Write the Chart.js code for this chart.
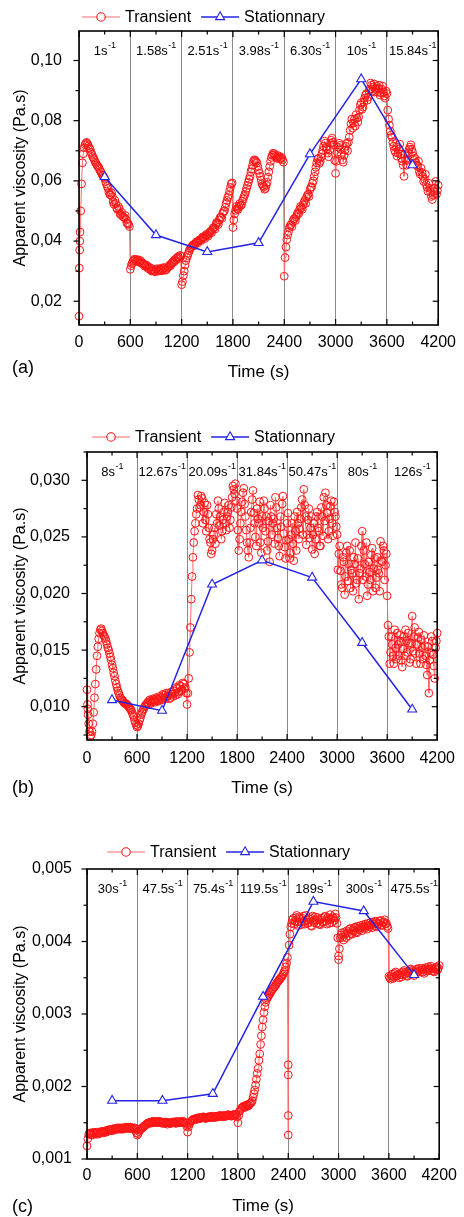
<!DOCTYPE html>
<html>
<head>
<meta charset="utf-8">
<script src="https://cdn.jsdelivr.net/npm/chart.js@4.4.1/dist/chart.umd.min.js"></script>
<style>
  html, body { margin: 0; padding: 0; background: #fff; }
  body { position: relative; width: 464px; height: 1217px; overflow: hidden; }
  canvas { position: absolute; left: 0; }
</style>
</head>
<body>
<canvas id="chartA" width="464" height="400" style="top:0px"></canvas>
<canvas id="chartB" width="464" height="410" style="top:400px"></canvas>
<canvas id="chartC" width="464" height="407" style="top:810px"></canvas>
<script>
/* global Chart */

// sampling grid of the transient runs (s)
const timeS = [
  0, 20, 40, 60, 80, 100, 120, 140, 160, 180, 200, 220, 240, 260, 280, 300, 320, 340, 360, 380, 400, 420, 440, 460, 480, 500, 520, 540, 560, 580,
  600, 620, 640, 660, 680, 700, 720, 740, 760, 780, 800, 820, 840, 860, 880, 900, 920, 940, 960, 980, 1000, 1020, 1040, 1060, 1080, 1100, 1120, 1140, 1160, 1180,
  1200, 1220, 1240, 1260, 1280, 1300, 1320, 1340, 1360, 1380, 1400, 1420, 1440, 1460, 1480, 1500, 1520, 1540, 1560, 1580, 1600, 1620, 1640, 1660, 1680, 1700, 1720, 1740, 1760, 1780,
  1800, 1820, 1840, 1860, 1880, 1900, 1920, 1940, 1960, 1980, 2000, 2020, 2040, 2060, 2080, 2100, 2120, 2140, 2160, 2180, 2200, 2220, 2240, 2260, 2280, 2300, 2320, 2340, 2360, 2380,
  2400, 2420, 2440, 2460, 2480, 2500, 2520, 2540, 2560, 2580, 2600, 2620, 2640, 2660, 2680, 2700, 2720, 2740, 2760, 2780, 2800, 2820, 2840, 2860, 2880, 2900, 2920, 2940, 2960, 2980,
  3000, 3020, 3040, 3060, 3080, 3100, 3120, 3140, 3160, 3180, 3200, 3220, 3240, 3260, 3280, 3300, 3320, 3340, 3360, 3380, 3400, 3420, 3440, 3460, 3480, 3500, 3520, 3540, 3560, 3580,
  3600, 3620, 3640, 3660, 3680, 3700, 3720, 3740, 3760, 3780, 3800, 3820, 3840, 3860, 3880, 3900, 3920, 3940, 3960, 3980, 4000, 4020, 4040, 4060, 4080, 4100, 4120, 4140, 4160, 4180, 4200,
];
// in-between readings (s)
const timeOddS = [
  10, 30, 50, 70, 90, 110, 130, 150, 170, 190, 210, 230, 250, 270, 290, 310, 330, 350, 370, 390, 410, 430, 450, 470, 490, 510, 530, 550, 570, 590,
  610, 630, 650, 670, 690, 710, 730, 750, 770, 790, 810, 830, 850, 870, 890, 910, 930, 950, 970, 990, 1010, 1030, 1050, 1070, 1090, 1110, 1130, 1150, 1170, 1190,
  1210, 1230, 1250, 1270, 1290, 1310, 1330, 1350, 1370, 1390, 1410, 1430, 1450, 1470, 1490, 1510, 1530, 1550, 1570, 1590, 1610, 1630, 1650, 1670, 1690, 1710, 1730, 1750, 1770, 1790,
  1810, 1830, 1850, 1870, 1890, 1910, 1930, 1950, 1970, 1990, 2010, 2030, 2050, 2070, 2090, 2110, 2130, 2150, 2170, 2190, 2210, 2230, 2250, 2270, 2290, 2310, 2330, 2350, 2370, 2390,
  2410, 2430, 2450, 2470, 2490, 2510, 2530, 2550, 2570, 2590, 2610, 2630, 2650, 2670, 2690, 2710, 2730, 2750, 2770, 2790, 2810, 2830, 2850, 2870, 2890, 2910, 2930, 2950, 2970, 2990,
  3010, 3030, 3050, 3070, 3090, 3110, 3130, 3150, 3170, 3190, 3210, 3230, 3250, 3270, 3290, 3310, 3330, 3350, 3370, 3390, 3410, 3430, 3450, 3470, 3490, 3510, 3530, 3550, 3570, 3590,
  3610, 3630, 3650, 3670, 3690, 3710, 3730, 3750, 3770, 3790, 3810, 3830, 3850, 3870, 3890, 3910, 3930, 3950, 3970, 3990, 4010, 4030, 4050, 4070, 4090, 4110, 4130, 4150, 4170, 4190,
];

// middle of each shear-rate step (s), where the stationary values sit
const stepMidS = [300, 900, 1500, 2100, 2700, 3300, 3900];
const xTicks = [0, 600, 1200, 1800, 2400, 3000, 3600, 4200];

// (a)
const ratesA = ["1", "1.58", "2.51", "3.98", "6.30", "10", "15.84"];
const stationaryA = [0.0613, 0.042, 0.0364, 0.0394, 0.0689, 0.0938, 0.0652];
const transientA = [
  0.015, 0.05, 0.066, 0.071, 0.0725, 0.0722, 0.071, 0.0695, 0.068, 0.067, 0.0658, 0.0648, 0.0638, 0.0628, 0.0618, 0.0608, 0.059, 0.0575, 0.0555, 0.056, 0.053, 0.0535, 0.051, 0.0515, 0.049, 0.0495, 0.048, 0.0485, 0.046, 0.0455,
  0.0306, 0.0325, 0.0335, 0.0338, 0.0336, 0.0332, 0.0335, 0.0328, 0.0322, 0.0318, 0.0315, 0.031, 0.0305, 0.0302, 0.03, 0.0305, 0.0302, 0.0305, 0.0303, 0.0308, 0.031, 0.0305, 0.0312, 0.032, 0.0325, 0.0332, 0.0338, 0.0342, 0.0348, 0.0352,
  0.0255, 0.0285, 0.032, 0.0345, 0.036, 0.0375, 0.0382, 0.0388, 0.0392, 0.0398, 0.04, 0.0405, 0.041, 0.0412, 0.0418, 0.042, 0.0425, 0.0432, 0.0438, 0.0445, 0.0455, 0.046, 0.047, 0.048, 0.0492, 0.05, 0.0525, 0.0545, 0.0565, 0.059,
  0.0445, 0.049, 0.0515, 0.0505, 0.0525, 0.052, 0.054, 0.0555, 0.0575, 0.0595, 0.0615, 0.064, 0.0665, 0.0668, 0.066, 0.0635, 0.0615, 0.059, 0.058, 0.0575, 0.0595, 0.063, 0.0665, 0.0685, 0.069, 0.0682, 0.0678, 0.068, 0.0675, 0.067,
  0.0283, 0.038, 0.042, 0.0445, 0.0455, 0.0465, 0.0475, 0.048, 0.0495, 0.0505, 0.051, 0.052, 0.0535, 0.0545, 0.0555, 0.057, 0.058, 0.06, 0.063, 0.066, 0.0675, 0.0665, 0.069, 0.0715, 0.0725, 0.0705, 0.068, 0.0725, 0.0742, 0.072,
  0.0625, 0.0695, 0.0725, 0.0705, 0.067, 0.0685, 0.0715, 0.07, 0.0745, 0.079, 0.0775, 0.0805, 0.082, 0.0795, 0.0835, 0.086, 0.0845, 0.0875, 0.089, 0.0878, 0.0905, 0.0918, 0.0912, 0.0895, 0.0915, 0.0908, 0.0885, 0.0905, 0.0895, 0.0875,
  0.089, 0.0805, 0.0765, 0.0745, 0.0715, 0.0695, 0.0682, 0.0705, 0.0688, 0.0665, 0.0615, 0.067, 0.0668, 0.0705, 0.072, 0.0695, 0.0668, 0.066, 0.0648, 0.063, 0.0642, 0.0615, 0.0605, 0.0588, 0.0565, 0.0575, 0.0548, 0.0552, 0.0575, 0.0555, 0.0585,
];
const transientOddA = [
  0.04, 0.059, 0.069, 0.072, 0.0728, 0.0716, 0.0705, 0.0688, 0.0676, 0.0662, 0.0652, 0.0645, 0.0632, 0.062, 0.0612, 0.0598, 0.0582, 0.0562, 0.0553, 0.0548, 0.0522, 0.0525, 0.0505, 0.0508, 0.0488, 0.0482, 0.0478, 0.0472, 0.0458, 0.0448,
  0.0318, 0.0332, 0.034, 0.0332, 0.0338, 0.033, 0.0326, 0.0324, 0.0316, 0.032, 0.0308, 0.0312, 0.03, 0.0304, 0.0298, 0.0308, 0.03, 0.0309, 0.0301, 0.0312, 0.0303, 0.0309, 0.0316, 0.0318, 0.0328, 0.033, 0.0336, 0.0345, 0.0342, 0.035,
  0.0265, 0.03, 0.0335, 0.0352, 0.0368, 0.0378, 0.0386, 0.0385, 0.0396, 0.0394, 0.0404, 0.0402, 0.0414, 0.0408, 0.0422, 0.0416, 0.043, 0.0428, 0.0444, 0.044, 0.0462, 0.0455, 0.0478, 0.0475, 0.0498, 0.0512, 0.0535, 0.0552, 0.0578, 0.0593,
  0.047, 0.0502, 0.0508, 0.0515, 0.0518, 0.0532, 0.0548, 0.0565, 0.0585, 0.0605, 0.063, 0.0652, 0.067, 0.0664, 0.0648, 0.0625, 0.0602, 0.0584, 0.0572, 0.0585, 0.0612, 0.0648, 0.0678, 0.0692, 0.0686, 0.0675, 0.0684, 0.0672, 0.0678, 0.0662,
  0.0345, 0.0405, 0.0432, 0.0452, 0.0448, 0.0472, 0.0468, 0.0488, 0.0492, 0.0515, 0.0505, 0.0528, 0.0525, 0.0552, 0.0548, 0.0578, 0.0592, 0.0615, 0.0645, 0.0672, 0.0658, 0.0678, 0.0702, 0.0732, 0.0712, 0.0692, 0.0702, 0.0735, 0.0728, 0.0668,
  0.0665, 0.0712, 0.0718, 0.0688, 0.0662, 0.0702, 0.0725, 0.0728, 0.0768, 0.0805, 0.0792, 0.0782, 0.0808, 0.0812, 0.0852, 0.0838, 0.0862, 0.0885, 0.0868, 0.0898, 0.0925, 0.0898, 0.0922, 0.0906, 0.0895, 0.0918, 0.0892, 0.0915, 0.0882, 0.0898,
  0.0835, 0.0785, 0.0752, 0.0728, 0.0702, 0.0712, 0.0692, 0.0722, 0.0675, 0.0652, 0.0688, 0.0652, 0.0692, 0.0712, 0.0705, 0.0682, 0.0675, 0.0652, 0.0665, 0.0622, 0.0628, 0.0598, 0.0622, 0.0578, 0.0592, 0.0562, 0.0538, 0.0565, 0.0598, 0.0568,
];
// extra readings logged right at a step change
const jumpTimeA = [4, 8, 12];
const jumpViscA = [0.031, 0.037, 0.043];
const yTicksA = [0.02, 0.04, 0.06, 0.08, 0.1];

// (b)
const ratesB = ["8", "12.67", "20.09", "31.84", "50.47", "80", "126"];
const stationaryB = [0.01059, 0.00965, 0.0208, 0.02294, 0.02141, 0.01565, 0.00976];
const transientB = [
  0.0115, 0.0085, 0.0074, 0.0078, 0.0095, 0.012, 0.0145, 0.016, 0.0168, 0.0167, 0.0163, 0.016, 0.0155, 0.015, 0.0144, 0.0137, 0.013, 0.0123, 0.0117, 0.0112, 0.0108, 0.0106, 0.0104, 0.0103, 0.0102, 0.01, 0.0098, 0.0095, 0.0091, 0.0086,
  0.0082, 0.0085, 0.009, 0.0095, 0.0098, 0.0101, 0.0103, 0.0102, 0.0105, 0.0104, 0.0106, 0.0104, 0.0107, 0.0105, 0.0108, 0.0106, 0.011, 0.0107, 0.0109, 0.0112, 0.0108, 0.0111, 0.0114, 0.011, 0.0116, 0.0113, 0.0118, 0.0115, 0.012, 0.0117,
  0.0102, 0.0125, 0.017, 0.0215, 0.0245, 0.0262, 0.0275, 0.0283, 0.0278, 0.0284, 0.0272, 0.0265, 0.0278, 0.0258, 0.0245, 0.0238, 0.0252, 0.0244, 0.0262, 0.0275, 0.0268, 0.0255, 0.0272, 0.0262, 0.0268, 0.0278, 0.0265, 0.0285, 0.0292, 0.0297,
  0.0275, 0.0238, 0.0262, 0.0281, 0.0293, 0.0268, 0.0245, 0.0232, 0.0258, 0.0283, 0.0271, 0.025, 0.0275, 0.0262, 0.0245, 0.0268, 0.0282, 0.0255, 0.0238, 0.0264, 0.0278, 0.0252, 0.0266, 0.0285, 0.0258, 0.0242, 0.0268, 0.0279, 0.0253, 0.0231,
  0.0262, 0.0248, 0.0236, 0.0262, 0.0229, 0.0255, 0.0272, 0.0248, 0.0266, 0.0283, 0.0292, 0.0268, 0.0252, 0.0275, 0.0258, 0.0239, 0.0262, 0.0248, 0.0272, 0.0255, 0.0242, 0.0268, 0.0285, 0.0289, 0.0271, 0.0255, 0.0277, 0.0262, 0.0281, 0.0268,
  0.0252, 0.0235, 0.022, 0.0205, 0.0228, 0.0215, 0.0242, 0.0226, 0.0205, 0.0218, 0.0232, 0.0245, 0.0212, 0.0195, 0.0222, 0.0255, 0.0238, 0.0215, 0.0198, 0.0228, 0.0212, 0.024, 0.0222, 0.0205, 0.0232, 0.0218, 0.0246, 0.0228, 0.0238, 0.0225,
  0.0198, 0.0162, 0.0148, 0.0155, 0.0138, 0.0152, 0.0165, 0.0145, 0.0158, 0.0135, 0.0162, 0.0168, 0.0148, 0.0156, 0.0142, 0.018, 0.0162, 0.0147, 0.0155, 0.0166, 0.0138, 0.0152, 0.0163, 0.0145, 0.0128, 0.0112, 0.0148, 0.0158, 0.0136, 0.0152, 0.0165,
];
const transientOddB = [
  0.0098, 0.0078, 0.0075, 0.0085, 0.0108, 0.0133, 0.0153, 0.0165, 0.0169, 0.0165, 0.0162, 0.0158, 0.0152, 0.0147, 0.0141, 0.0134, 0.0127, 0.012, 0.0114, 0.011, 0.0107, 0.0105, 0.0103, 0.0102, 0.0101, 0.0099, 0.0097, 0.0093, 0.0088, 0.0084,
  0.0083, 0.0088, 0.0093, 0.0097, 0.01, 0.0102, 0.0104, 0.0106, 0.0103, 0.0107, 0.0105, 0.0108, 0.0106, 0.0109, 0.0107, 0.0111, 0.0108, 0.0112, 0.011, 0.0107, 0.0113, 0.0109, 0.0112, 0.0117, 0.0111, 0.0119, 0.0114, 0.0121, 0.0116, 0.0112,
  0.0112, 0.0148, 0.0195, 0.0232, 0.0255, 0.027, 0.0287, 0.0276, 0.0286, 0.0262, 0.028, 0.0255, 0.027, 0.0248, 0.0235, 0.0248, 0.0258, 0.027, 0.0282, 0.026, 0.0248, 0.0265, 0.028, 0.0256, 0.0272, 0.0258, 0.0276, 0.0295, 0.0288, 0.0282,
  0.0256, 0.0248, 0.0272, 0.0289, 0.0279, 0.0256, 0.0238, 0.0245, 0.0272, 0.0291, 0.0262, 0.0242, 0.0266, 0.0281, 0.0236, 0.0258, 0.0275, 0.0268, 0.0246, 0.0228, 0.0268, 0.0262, 0.0244, 0.0276, 0.0249, 0.0233, 0.0259, 0.0286, 0.0241, 0.0247,
  0.0271, 0.0231, 0.0252, 0.0244, 0.0268, 0.0238, 0.0262, 0.0257, 0.0276, 0.0252, 0.0278, 0.0243, 0.0265, 0.0249, 0.0268, 0.0252, 0.0235, 0.0268, 0.0258, 0.0242, 0.0276, 0.0251, 0.0264, 0.0278, 0.0248, 0.0266, 0.0282, 0.0251, 0.0272, 0.0259,
  0.0221, 0.0242, 0.0208, 0.0232, 0.0199, 0.0236, 0.0211, 0.0238, 0.0221, 0.0202, 0.0226, 0.0209, 0.0231, 0.0218, 0.0242, 0.0212, 0.0226, 0.0245, 0.0208, 0.0219, 0.0234, 0.0202, 0.0231, 0.0214, 0.0221, 0.0202, 0.0229, 0.0242, 0.0212, 0.0235,
  0.0172, 0.0138, 0.0162, 0.0145, 0.0168, 0.0142, 0.0155, 0.0163, 0.0141, 0.0151, 0.0145, 0.0158, 0.0165, 0.0139, 0.0156, 0.0149, 0.017, 0.0138, 0.0161, 0.0147, 0.0159, 0.0142, 0.0154, 0.0137, 0.0153, 0.0141, 0.0162, 0.0146, 0.0125, 0.0158,
];
const jumpTimeB = [6, 12];
const jumpViscB = [0.0102, 0.0093];
const yTicksB = [0.01, 0.015, 0.02, 0.025, 0.03];

// (c)
const ratesC = ["30", "47.5", "75.4", "119.5", "189", "300", "475.5"];
const stationaryC = [0.001805, 0.001805, 0.0019, 0.00324, 0.00455, 0.00442, 0.00354];
const transientC = [
  0.00118, 0.00134, 0.00136, 0.00133, 0.00137, 0.00135, 0.00134, 0.00137, 0.00136, 0.00138, 0.00136, 0.00139, 0.00138, 0.0014, 0.00141, 0.00139, 0.00142, 0.00141, 0.00143, 0.00142, 0.00141, 0.00143, 0.00142, 0.00144, 0.00143, 0.00142, 0.00144, 0.00143, 0.00142, 0.00141,
  0.00133, 0.00138, 0.00141, 0.00143, 0.00145, 0.00147, 0.00149, 0.0015, 0.00151, 0.0015, 0.00152, 0.00151, 0.0015, 0.00152, 0.00151, 0.00149, 0.00151, 0.0015, 0.00148, 0.0015, 0.00149, 0.00151, 0.0015, 0.00149, 0.00151, 0.0015, 0.00152, 0.00151, 0.0015, 0.00149,
  0.00137, 0.00148, 0.00152, 0.00154, 0.00155, 0.00156, 0.00155, 0.00157, 0.00156, 0.00158, 0.00157, 0.00156, 0.00158, 0.00157, 0.00159, 0.00158, 0.00157, 0.00159, 0.00158, 0.0016, 0.00159, 0.00158, 0.0016, 0.00159, 0.00161, 0.0016, 0.00159, 0.00161, 0.0016, 0.00161,
  0.0015, 0.00166, 0.0017, 0.00172, 0.00171, 0.00174, 0.00173, 0.00176, 0.00178, 0.00185, 0.00195, 0.0021, 0.00225, 0.00245, 0.0027, 0.00292, 0.0031, 0.0032, 0.00324, 0.00328, 0.00332, 0.00335, 0.00338, 0.00342, 0.00345, 0.00348, 0.00351, 0.00355, 0.0036, 0.0037,
  0.00133, 0.0041, 0.00425, 0.00432, 0.00428, 0.00436, 0.00422, 0.00431, 0.00427, 0.00435, 0.00424, 0.0043, 0.00426, 0.00433, 0.00421, 0.00429, 0.00434, 0.00425, 0.0043, 0.00423, 0.00432, 0.00427, 0.00435, 0.00424, 0.0043, 0.00437, 0.00426, 0.00432, 0.00438, 0.00425,
  0.0038, 0.00405, 0.00412, 0.00402, 0.0041, 0.00415, 0.00408, 0.00418, 0.0041, 0.00414, 0.0042, 0.00412, 0.00418, 0.00422, 0.00415, 0.0042, 0.00424, 0.00417, 0.00422, 0.00426, 0.00419, 0.00424, 0.00428, 0.0042, 0.00425, 0.00429, 0.00422, 0.00427, 0.00424, 0.00421,
  0.00352, 0.00348, 0.00355, 0.00351, 0.00358, 0.00353, 0.0035, 0.00357, 0.00354, 0.0036, 0.00355, 0.00352, 0.00359, 0.00362, 0.00356, 0.00353, 0.0036, 0.00357, 0.00363, 0.00358, 0.00361, 0.00356, 0.00364, 0.00359, 0.00362, 0.00366, 0.0036, 0.00358, 0.00364, 0.00361, 0.00367,
];
const transientOddC = [
  0.00128, 0.00135, 0.00134, 0.00136, 0.00135, 0.00137, 0.00136, 0.00135, 0.00138, 0.00137, 0.00138, 0.00137, 0.0014, 0.00139, 0.0014, 0.00141, 0.0014, 0.00142, 0.00141, 0.00143, 0.00142, 0.00141, 0.00143, 0.00142, 0.00144, 0.00143, 0.00142, 0.00141, 0.00143, 0.00136,
  0.00135, 0.0014, 0.00142, 0.00144, 0.00146, 0.00148, 0.0015, 0.00149, 0.00151, 0.00152, 0.0015, 0.00151, 0.00152, 0.0015, 0.00151, 0.0015, 0.00149, 0.00151, 0.0015, 0.00149, 0.0015, 0.00151, 0.0015, 0.00152, 0.0015, 0.00151, 0.0015, 0.00152, 0.0015, 0.00145,
  0.00144, 0.0015, 0.00153, 0.00155, 0.00154, 0.00156, 0.00157, 0.00156, 0.00157, 0.00158, 0.00156, 0.00157, 0.00158, 0.00158, 0.00157, 0.00159, 0.00158, 0.00158, 0.00159, 0.0016, 0.00159, 0.0016, 0.00159, 0.0016, 0.00161, 0.0016, 0.0016, 0.00161, 0.00162, 0.00158,
  0.0016, 0.00168, 0.00171, 0.00173, 0.00172, 0.00175, 0.00174, 0.00177, 0.0018, 0.0019, 0.00202, 0.00218, 0.00236, 0.00258, 0.00282, 0.00302, 0.00316, 0.00322, 0.00326, 0.0033, 0.00334, 0.00337, 0.0034, 0.00344, 0.00347, 0.0035, 0.00353, 0.00358, 0.00365, 0.00378,
  0.00395, 0.0042, 0.0043, 0.00424, 0.00433, 0.00427, 0.00434, 0.00423, 0.00432, 0.00428, 0.00436, 0.00425, 0.00431, 0.00422, 0.00435, 0.00426, 0.0043, 0.00433, 0.00424, 0.0043, 0.00426, 0.00434, 0.00428, 0.00433, 0.00425, 0.00431, 0.00434, 0.00429, 0.00433, 0.00405,
  0.0039, 0.00409, 0.00406, 0.00413, 0.00405, 0.00412, 0.00417, 0.00411, 0.00416, 0.00419, 0.00413, 0.00421, 0.00416, 0.00419, 0.00423, 0.00418, 0.00421, 0.00425, 0.0042, 0.00423, 0.00427, 0.00421, 0.00426, 0.00424, 0.00428, 0.00423, 0.00426, 0.0043, 0.00425, 0.00418,
  0.0035, 0.00353, 0.00349, 0.00356, 0.00352, 0.00355, 0.00354, 0.00351, 0.00358, 0.00356, 0.00353, 0.00357, 0.00361, 0.00358, 0.00355, 0.00358, 0.00362, 0.00359, 0.0036, 0.00363, 0.00358, 0.00362, 0.0036, 0.00365, 0.00361, 0.00363, 0.00359, 0.00362, 0.00365, 0.00363,
];
const jumpTimeC = [2400, 2400, 2400, 3000];
const jumpViscC = [0.0016, 0.00216, 0.0023, 0.00375];
const yTicksC = [0.001, 0.002, 0.003, 0.004, 0.005];

const RED = "#ff1414";
const RED_LINE = "#ff6a6a";
const BLUE = "#2323e6";
const GRAY = "#8a8a8a";
const FONT = "'Liberation Sans', Arial, Helvetica, sans-serif";

Chart.defaults.font.family = FONT;
Chart.defaults.font.size = 16;
Chart.defaults.color = "#000";

function midpoints(ticks) {
  const out = [];
  const step = ticks[1] - ticks[0];
  out.push(ticks[0] - step / 2);
  for (let i = 0; i < ticks.length - 1; i++) out.push((ticks[i] + ticks[i + 1]) / 2);
  out.push(ticks[ticks.length - 1] + step / 2);
  return out;
}

// frame, inward/outward ticks, shear-rate labels, legend and panel letter
const panelDecor = {
  id: "panelDecor",
  afterDraw(chart, args, opts) {
    const ctx = chart.ctx;
    const area = chart.chartArea;
    const xs = chart.scales.x;
    const ys = chart.scales.y;
    ctx.save();

    // shear rate of each step
    ctx.fillStyle = "#000";
    ctx.textBaseline = "alphabetic";
    opts.rates.forEach((r, i) => {
      const main = r + "s";
      ctx.font = "13px " + FONT;
      const w1 = ctx.measureText(main).width;
      ctx.font = "9px " + FONT;
      const w2 = ctx.measureText("-1").width;
      const cx = xs.getPixelForValue(stepMidS[i]);
      const x0 = cx - (w1 + w2) / 2;
      const base = area.top + 23.5;
      ctx.font = "13px " + FONT;
      ctx.fillText(main, x0, base);
      ctx.font = "9px " + FONT;
      ctx.fillText("-1", x0 + w1 + 0.5, base - 7);
    });

    // tick marks
    ctx.strokeStyle = "#000";
    ctx.lineWidth = 1.2;
    const seg = (x1, y1, x2, y2) => {
      ctx.beginPath();
      ctx.moveTo(x1, y1);
      ctx.lineTo(x2, y2);
      ctx.stroke();
    };
    const inX = (v) => v >= xs.min && v <= xs.max;
    const inY = (v) => v >= ys.min - 1e-12 && v <= ys.max + 1e-12;
    xTicks.filter(inX).forEach((v) => {
      const px = xs.getPixelForValue(v);
      seg(px, area.bottom, px, area.bottom - 6);
      seg(px, area.top, px, area.top + 6);
    });
    midpoints(xTicks).filter(inX).forEach((v) => {
      const px = xs.getPixelForValue(v);
      seg(px, area.bottom, px, area.bottom - 3.5);
      seg(px, area.top, px, area.top + 3.5);
    });
    opts.yTicks.filter(inY).forEach((v) => {
      const py = ys.getPixelForValue(v);
      seg(area.left, py, area.left - 5.5, py);
      seg(area.right, py, area.right - 5.5, py);
    });
    midpoints(opts.yTicks).filter(inY).forEach((v) => {
      const py = ys.getPixelForValue(v);
      seg(area.left, py, area.left - 3.5, py);
      seg(area.right, py, area.right - 3.5, py);
    });

    // plot frame
    ctx.lineWidth = 1.6;
    ctx.strokeRect(area.left, area.top, area.right - area.left, area.bottom - area.top);

    // legend: line + symbol, then label
    ctx.font = "16px " + FONT;
    ctx.textBaseline = "middle";
    let lx = opts.legendX;
    const ly = opts.legendY;
    [chart.data.datasets[1], chart.data.datasets[0]].forEach((ds) => {
      ctx.strokeStyle = ds.borderColor;
      ctx.lineWidth = ds.borderWidth;
      seg(lx, ly, lx + 38, ly);
      ctx.strokeStyle = ds.pointBorderColor;
      ctx.fillStyle = ds.legendFill;
      ctx.lineWidth = 1.1;
      Chart.helpers.drawPoint(ctx, {
        pointStyle: ds.pointStyle,
        radius: ds.pointStyle === "circle" ? 4.2 : 5.2,
        borderWidth: 1.1,
        rotation: 0,
      }, lx + 19, ly);
      ctx.fillStyle = "#000";
      ctx.fillText(ds.label, lx + 43, ly + 1);
      lx += 43 + ctx.measureText(ds.label).width + 10;
    });

    // panel letter
    ctx.font = "18px " + FONT;
    ctx.fillText(opts.letter, 12, opts.letterY);
    ctx.restore();
  },
};

function buildPanel(canvasId, p) {
  const transient = timeS.map((t, i) => ({ x: t, y: p.transient[i] }));
  p.transientOdd.forEach((v, i) => transient.push({ x: timeOddS[i], y: v }));
  p.jumpTime.forEach((t, i) => transient.push({ x: t, y: p.jumpVisc[i] }));
  transient.sort((a, b) => a.x - b.x);
  const stationary = stepMidS.map((t, i) => ({ x: t, y: p.stationary[i] }));

  const config = {
    type: "scatter",
    data: {
      datasets: [
        {
          label: "Stationnary",
          data: stationary,
          showLine: true,
          order: 0,
          borderColor: BLUE,
          borderWidth: 1.5,
          pointStyle: "triangle",
          pointRadius: 5.2,
          pointBorderWidth: 1.1,
          pointBorderColor: BLUE,
          pointBackgroundColor: "#fff",
          legendFill: "#fff",
          clip: false,
        },
        {
          label: "Transient",
          data: transient,
          showLine: true,
          order: 1,
          borderColor: RED_LINE,
          borderWidth: 1,
          pointStyle: "circle",
          pointRadius: 3.9,
          pointBorderWidth: 1,
          pointBorderColor: RED,
          pointBackgroundColor: "rgba(255,255,255,0)",
          legendFill: "#fff",
          clip: false,
        },
      ],
    },
    options: {
      responsive: false,
      animation: false,
      events: [],
      layout: {
        padding: { left: 0, right: 464 - p.plotRight, top: p.plotTop, bottom: 0 },
      },
      scales: {
        x: {
          type: "linear",
          bounds: "data",
          min: 0,
          max: 4200,
          afterBuildTicks: (s) => {
            s.ticks = xTicks.map((v) => ({ value: v }));
          },
          afterFit: (s) => {
            s.height = p.xAxisHeight;
          },
          grid: { color: GRAY, lineWidth: 1, drawTicks: false },
          border: { display: false },
          ticks: {
            padding: p.xTickPad,
            maxRotation: 0,
            autoSkip: false,
            callback: (v) => String(v),
          },
          title: {
            display: true,
            text: "Time (s)",
            font: { size: 17 },
            padding: { top: 0, bottom: p.xTitlePad },
          },
        },
        y: {
          type: "linear",
          bounds: "data",
          min: p.yMin,
          max: p.yMax,
          afterBuildTicks: (s) => {
            s.ticks = p.yTicks.map((v) => ({ value: v }));
          },
          afterFit: (s) => {
            s.width = p.plotLeft;
          },
          grid: { display: false },
          border: { display: false },
          ticks: {
            padding: p.yTickPad,
            callback: (v) => v.toFixed(p.decimals).replace(".", ","),
          },
          title: {
            display: true,
            text: "Apparent viscosity (Pa.s)",
            padding: { top: 11, bottom: 0 },
          },
        },
      },
      plugins: {
        legend: { display: false },
        tooltip: { enabled: false },
        panelDecor: {
          rates: p.rates,
          yTicks: p.yTicks,
          legendX: p.legendX,
          legendY: p.legendY,
          letter: p.letter,
          letterY: p.letterY,
        },
      },
    },
    plugins: [panelDecor],
  };
  return new Chart(document.getElementById(canvasId), config);
}

window.chartA = buildPanel("chartA", {
  transient: transientA, transientOdd: transientOddA, jumpTime: jumpTimeA, jumpVisc: jumpViscA, stationary: stationaryA,
  rates: ratesA, yTicks: yTicksA, yMin: 0.0121, yMax: 0.1098, decimals: 2,
  plotLeft: 79, plotRight: 442, plotTop: 31, xAxisHeight: 75,
  xTickPad: 8, xTitlePad: 17, yTickPad: 9,
  legendX: 82, legendY: 17, letter: "(a)", letterY: 368,
});

window.chartB = buildPanel("chartB", {
  transient: transientB, transientOdd: transientOddB, jumpTime: jumpTimeB, jumpVisc: jumpViscB, stationary: stationaryB,
  rates: ratesB, yTicks: yTicksB, yMin: 0.00706, yMax: 0.0325, decimals: 3,
  plotLeft: 87, plotRight: 442, plotTop: 52, xAxisHeight: 70,
  xTickPad: 9, xTitlePad: 11, yTickPad: 9,
  legendX: 92, legendY: 37, letter: "(b)", letterY: 388,
});

window.chartC = buildPanel("chartC", {
  transient: transientC, transientOdd: transientOddC, jumpTime: jumpTimeC, jumpVisc: jumpViscC, stationary: stationaryC,
  rates: ratesC, yTicks: yTicksC, yMin: 0.001, yMax: 0.005, decimals: 3,
  plotLeft: 87, plotRight: 442, plotTop: 59, xAxisHeight: 58,
  xTickPad: 7, xTitlePad: 0, yTickPad: 7,
  legendX: 107, legendY: 42, letter: "(c)", letterY: 397,
});
</script>
</body>
</html>
